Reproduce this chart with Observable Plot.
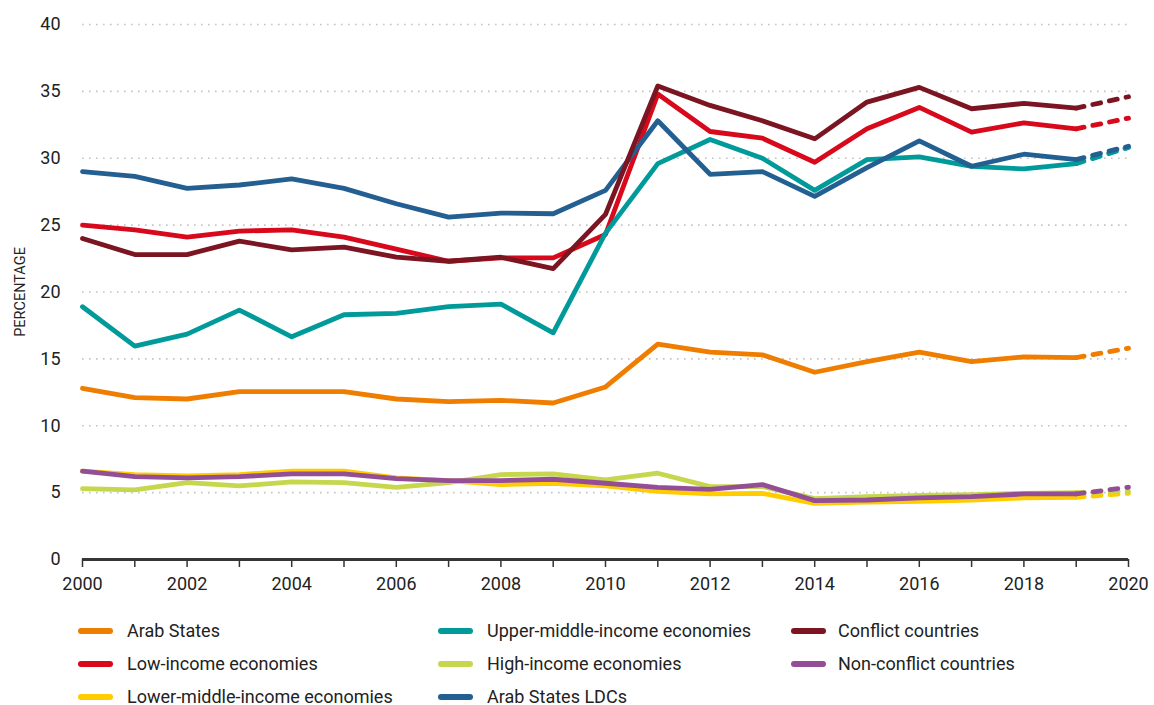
<!DOCTYPE html>
<html><head><meta charset="utf-8">
<script src="https://cdn.jsdelivr.net/npm/d3@7"></script>
<script src="https://cdn.jsdelivr.net/npm/@observablehq/plot@0.6"></script>
<style>
body{margin:0;background:#fff;font-family:Roboto,sans-serif;}
#legend{position:relative;width:1154px;height:95px;font-size:18px;color:#222;}
.sw{position:absolute;width:35px;height:6px;border-radius:3px;}
.lb{position:absolute;white-space:nowrap;line-height:20px;}
</style></head><body>
<div id="chart"></div><div id="legend"></div>
<script>
const years = [2000,2001,2002,2003,2004,2005,2006,2007,2008,2009,2010,2011,2012,2013,2014,2015,2016,2017,2018,2019,2020];
const yTicks = [0,5,10,15,20,25,30,35,40];
const seriesNames = ["Arab States","Low-income economies","Lower-middle-income economies","Upper-middle-income economies","High-income economies","Arab States LDCs","Conflict countries","Non-conflict countries"];
const seriesColors = ["#EF7D00","#D7091B","#FFCC00","#009A9A","#C6D74E","#235F91","#7B1522","#944E97"];

const arabStates   = [12.8,12.1,12.0,12.55,12.55,12.55,12.0,11.8,11.9,11.7,12.9,16.1,15.5,15.3,14.0,14.8,15.5,14.8,15.15,15.1,15.8];
const lowIncome    = [25.0,24.65,24.1,24.55,24.65,24.1,23.2,22.3,22.55,22.55,24.3,34.8,32.0,31.5,29.7,32.2,33.8,31.95,32.65,32.2,33.0];
const lowerMiddle  = [6.6,6.35,6.25,6.35,6.6,6.6,6.1,5.9,5.6,5.7,5.5,5.1,4.9,4.95,4.2,4.3,4.35,4.45,4.6,4.65,4.95];
const upperMiddle  = [18.9,15.95,16.85,18.65,16.65,18.3,18.4,18.9,19.1,16.95,24.4,29.6,31.4,30.0,27.6,29.9,30.1,29.4,29.2,29.6,30.8];
const highIncome   = [5.3,5.2,5.75,5.5,5.8,5.75,5.4,5.75,6.35,6.4,5.95,6.45,5.45,5.45,4.55,4.7,4.8,4.85,4.95,5.0,5.1];
const arabLDCs     = [29.0,28.65,27.75,28.0,28.45,27.75,26.6,25.6,25.9,25.85,27.6,32.8,28.8,29.0,27.15,29.3,31.3,29.4,30.3,29.9,30.9];
const conflict     = [24.0,22.8,22.8,23.8,23.15,23.35,22.6,22.3,22.6,21.75,25.8,35.4,33.95,32.8,31.45,34.2,35.3,33.7,34.1,33.75,34.6];
const nonConflict  = [6.6,6.2,6.1,6.2,6.4,6.4,6.05,5.9,5.9,6.0,5.7,5.4,5.25,5.6,4.4,4.45,4.6,4.7,4.9,4.9,5.4];

const seriesValues = [arabStates,lowIncome,lowerMiddle,upperMiddle,highIncome,arabLDCs,conflict,nonConflict];
const lastSolid = 2019;

const lineMarks = [];
seriesNames.forEach((name,i)=>{
  const rows = years.map((y,j)=>({series:name, year:y, value:seriesValues[i][j]}));
  const common = {x:"year", y:"value", stroke:"series", strokeWidth:4.8, strokeLinecap:"round", strokeLinejoin:"round"};
  lineMarks.push(Plot.line(rows.filter(d=>d.year<=lastSolid), common));
  lineMarks.push(Plot.line(rows.filter(d=>d.year>=lastSolid), {...common, strokeDasharray:"8,9"}));
});

const chart = Plot.plot({
  width:1154, height:610,
  marginLeft:82, marginRight:26, marginTop:24, marginBottom:51,
  style:{fontFamily:"Roboto, sans-serif", fontSize:"18px", color:"#222", background:"#fff"},
  x:{domain:[2000,2020]},
  y:{domain:[0,40]},
  color:{domain:seriesNames, range:seriesColors},
  marks:[
    Plot.ruleY(yTicks.filter(d=>d>0), {stroke:"#c4c4c4", strokeWidth:1.6, strokeDasharray:"1.6,5.4"}),
    Plot.axisY(yTicks, {tickSize:0, tickPadding:22, label:null, fontSize:18}),
    Plot.text(["PERCENTAGE"], {frameAnchor:"left", dx:-62, rotate:-90, textAnchor:"middle", fontSize:14.5, fill:"#222"}),
    Plot.axisX(years, {tickSize:8, tickPadding:10, stroke:"#333", strokeWidth:1.5, label:null, tickFormat:d=> d%2===0 ? String(d) : "", fontSize:18}),
    Plot.ruleY([0], {stroke:"#3a3535", strokeWidth:3}),
    ...lineMarks
  ]
});
document.getElementById("chart").appendChild(chart);

// legend
const legend = document.getElementById("legend");
const colX = [[78,127],[438,487],[791,838]];
const rowY = [21,54,87];
const layout = [[0,0],[1,0],[2,0],[0,1],[1,1],[2,1],[0,2],[1,2]];
seriesNames.forEach((name,i)=>{
  const [r,c] = layout[i];
  const sw = document.createElement("div");
  sw.className="sw"; sw.style.background=seriesColors[i];
  sw.style.left=colX[c][0]+"px"; sw.style.top=(rowY[r]-3)+"px";
  const lb = document.createElement("div");
  lb.className="lb"; lb.textContent=name;
  lb.style.left=colX[c][1]+"px"; lb.style.top=(rowY[r]-10)+"px";
  legend.appendChild(sw); legend.appendChild(lb);
});
</script>
</body></html>
